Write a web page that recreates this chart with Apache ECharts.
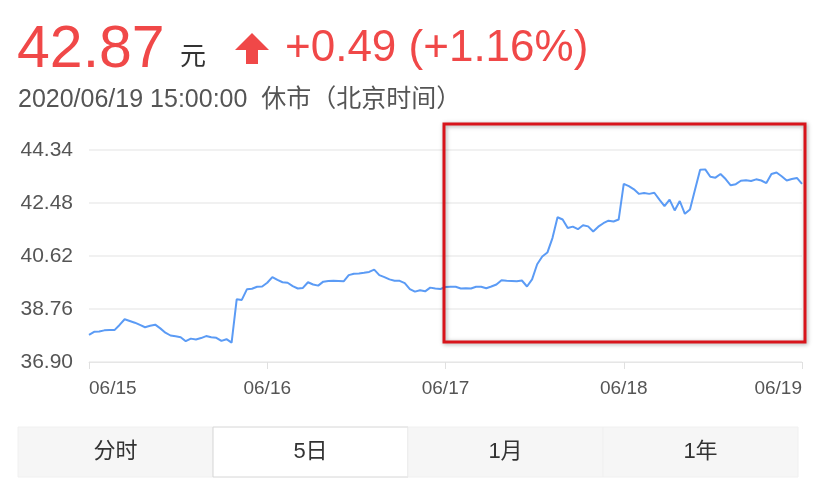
<!DOCTYPE html>
<html>
<head>
<meta charset="utf-8">
<script src="https://cdn.jsdelivr.net/npm/echarts@6/dist/echarts.min.js"></script>
<style>
  html, body { margin: 0; padding: 0; background: #fff; }
  #chart { width: 825px; height: 483px; }
</style>
</head>
<body>
<div id="chart"></div>
<script>
// 5日分时 price readings, sampled evenly across the five sessions
var prices = [
  37.85, 37.96, 37.97, 38.01, 38.02, 38.02, 38.20, 38.40, 38.34, 38.28,
  38.20, 38.12, 38.17, 38.21, 38.08, 37.93, 37.83, 37.80, 37.77, 37.63,
  37.72, 37.69, 37.74, 37.81, 37.77, 37.75, 37.64, 37.70, 37.58, 39.10,
  39.08, 39.45, 39.47, 39.54, 39.55, 39.68, 39.88, 39.78, 39.70, 39.68,
  39.56, 39.48, 39.50, 39.70, 39.62, 39.58, 39.72, 39.74, 39.75, 39.74,
  39.73, 39.95, 40.00, 40.01, 40.03, 40.06, 40.14, 39.95, 39.88, 39.80,
  39.75, 39.75, 39.67, 39.46, 39.37, 39.42, 39.38, 39.51, 39.48, 39.46,
  39.53, 39.54, 39.54, 39.48, 39.49, 39.48, 39.54, 39.54, 39.49, 39.55,
  39.62, 39.77, 39.75, 39.74, 39.73, 39.76, 39.55, 39.80, 40.33, 40.60,
  40.74, 41.25, 41.98, 41.90, 41.60, 41.65, 41.56, 41.70, 41.66, 41.48,
  41.65, 41.77, 41.86, 41.83, 41.90, 43.15, 43.07, 42.96, 42.80, 42.83,
  42.80, 42.84, 42.60, 42.37, 42.60, 42.22, 42.55, 42.10, 42.25, 42.95,
  43.65, 43.66, 43.40, 43.37, 43.50, 43.32, 43.10, 43.14, 43.26, 43.28,
  43.25, 43.31, 43.27, 43.18, 43.50, 43.55, 43.42, 43.27, 43.32, 43.36,
  43.15
];
var dayLabels = ["06/15", "06/16", "06/17", "06/18", "06/19"];
var yTicks = [36.90, 38.76, 40.62, 42.48, 44.34];
var tabs = ["分时", "5日", "1月", "1年"];
var activeTab = 1;

var labelStep = (prices.length - 1) / (dayLabels.length - 1);
var categories = prices.map(function(p, i) {
  return i % labelStep === 0 ? dayLabels[i / labelStep] : "p" + i;
});

var red = "#f04848";
var font = "Arial, 'Liberation Sans', 'Noto Sans CJK SC', sans-serif";

var tabGraphics = [];
var tabX = 18, tabW = 195, tabY = 427, tabH = 50;
tabs.forEach(function(t, i) {
  var on = i === activeTab;
  tabGraphics.push({
    type: "rect",
    shape: { x: tabX + i * tabW, y: tabY, width: tabW, height: tabH },
    style: {
      fill: on ? "#fff" : "#f6f6f6",
      stroke: on ? "#d6d6d6" : "#f0f0f0",
      lineWidth: 1
    }
  });
  tabGraphics.push({
    type: "text",
    x: tabX + i * tabW + tabW / 2,
    y: tabY + tabH / 2,
    style: {
      text: t,
      fill: "#333",
      font: "22px " + font,
      align: "center",
      verticalAlign: "middle"
    }
  });
});

var chart = echarts.init(document.getElementById("chart"));

var option = {
  animation: false,
  grid: { left: 89, right: 23, top: 150, bottom: 121 },
  xAxis: {
    type: "category",
    boundaryGap: false,
    data: categories,
    axisLine: { lineStyle: { color: "#e6e6e6", width: 1 } },
    axisTick: {
      interval: labelStep - 1,
      length: 7,
      lineStyle: { color: "#e0e0e0" }
    },
    axisLabel: {
      interval: labelStep - 1,
      color: "#555",
      fontSize: 19,
      fontFamily: font,
      margin: 17,
      alignMinLabel: "left",
      alignMaxLabel: "right"
    },
    splitLine: { show: false }
  },
  yAxis: {
    type: "value",
    min: yTicks[0],
    max: yTicks[yTicks.length - 1],
    axisLine: { show: false },
    axisTick: { show: false, customValues: yTicks },
    axisLabel: {
      customValues: yTicks,
      color: "#555",
      fontSize: 21,
      fontFamily: font,
      margin: 16,
      formatter: function(v) { return v.toFixed(2); }
    },
    splitLine: { lineStyle: { color: "#ececec", width: 1.5 } }
  },
  series: [
    {
      type: "line",
      data: prices,
      symbol: "none",
      lineStyle: { color: "#5b9bf5", width: 2 }
    }
  ],
  graphic: [
    {
      type: "text", x: 17, y: 21,
      style: { text: "42.87", fill: red, font: "59px " + font }
    },
    {
      type: "text", x: 180, y: 45,
      style: { text: "元", fill: "#333", font: "26px " + font }
    },
    {
      type: "polygon",
      shape: {
        points: [[252, 33], [269, 50], [258, 50], [258, 64], [246, 64], [246, 50], [235, 50]]
      },
      style: { fill: red }
    },
    {
      type: "text", x: 285, y: 27,
      style: { text: "+0.49 (+1.16%)", fill: red, font: "44px " + font }
    },
    {
      type: "text", x: 18, y: 88,
      style: { text: "2020/06/19 15:00:00  休市（北京时间）", fill: "#555", font: "25px " + font }
    },
    {
      type: "rect",
      shape: { x: 444, y: 124, width: 361, height: 218 },
      style: {
        fill: "none",
        stroke: "#d8141b",
        lineWidth: 3,
        shadowBlur: 4,
        shadowColor: "rgba(0,0,0,0.35)",
        shadowOffsetX: 1,
        shadowOffsetY: 1
      },
      z: 100
    }
  ].concat(tabGraphics)
};

chart.setOption(option);
</script>
</body>
</html>
